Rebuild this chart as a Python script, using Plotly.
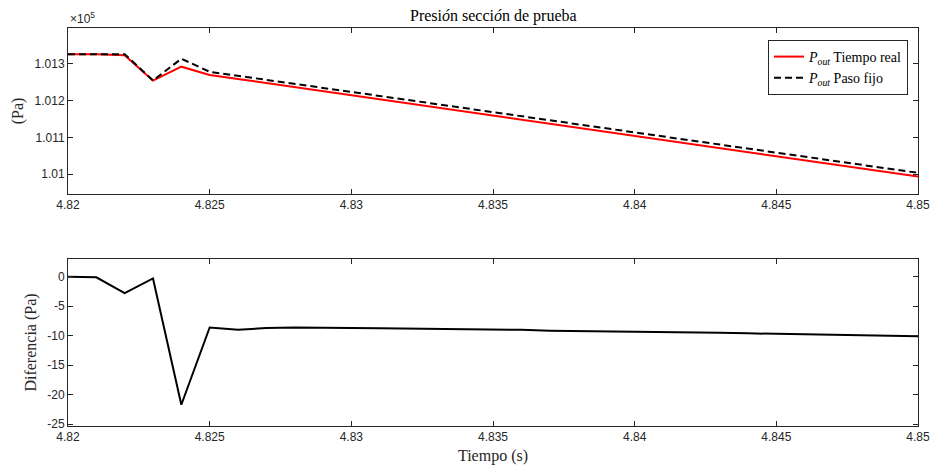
import plotly.graph_objects as go

tiempo = [4.820, 4.821, 4.822, 4.823, 4.824, 4.825, 4.826, 4.827, 4.828, 4.829,
          4.830, 4.831, 4.832, 4.833, 4.834, 4.835, 4.836, 4.837, 4.838, 4.839,
          4.840, 4.841, 4.842, 4.843, 4.844, 4.845, 4.846, 4.847, 4.848, 4.849, 4.850]

p_real = [101326.5, 101326.6, 101323.7, 101254.5, 101292.6, 101270.0, 101259.0, 101248.0,
          101237.0, 101226.0, 101215.0, 101204.0, 101193.0, 101181.0, 101170.0, 101159.0,
          101148.0, 101137.0, 101126.0, 101115.0, 101104.0, 101093.0, 101082.0, 101070.0,
          101059.0, 101048.0, 101037.0, 101026.0, 101015.0, 101004.0, 100993.0]

p_fijo = [101326.5, 101326.7, 101326.5, 101254.8, 101314.3, 101278.6, 101268.0, 101256.7,
          101245.6, 101234.6, 101223.7, 101212.75, 101201.8, 101189.8, 101178.95, 101168.0,
          101157.0, 101146.15, 101135.2, 101124.2, 101113.35, 101102.4, 101091.45, 101079.5,
          101068.6, 101057.7, 101046.8, 101035.85, 101024.95, 101014.05, 101003.1]

diferencia = [0.0, -0.1, -2.8, -0.3, -21.7, -8.6, -9.0, -8.7, -8.6, -8.6,
              -8.7, -8.75, -8.8, -8.8, -8.95, -9.0, -9.0, -9.15, -9.2, -9.2,
              -9.35, -9.4, -9.45, -9.5, -9.6, -9.7, -9.8, -9.85, -9.95, -10.05, -10.1]

x_ticks = [4.82, 4.825, 4.83, 4.835, 4.84, 4.845, 4.85]
x_ticktext = ["4.82", "4.825", "4.83", "4.835", "4.84", "4.845", "4.85"]
y1_ticks = [101000, 101100, 101200, 101300]
y1_ticktext = ["1.01", "1.011", "1.012", "1.013"]
y2_ticks = [0, -5, -10, -15, -20, -25]
y2_ticktext = ["0", "-5", "-10", "-15", "-20", "-25"]

AX = "#262626"
SANS = "Liberation Sans, Arial, sans-serif"
SERIF = "Liberation Serif, Times New Roman, serif"

fig = go.Figure()
fig.add_trace(go.Scatter(x=tiempo, y=p_real, mode="lines",
                         line=dict(color="#ff0000", width=2),
                         name="<i>P</i><sub><i>out</i></sub> Tiempo real",
                         xaxis="x", yaxis="y"))
fig.add_trace(go.Scatter(x=tiempo, y=p_fijo, mode="lines",
                         line=dict(color="#000000", width=2, dash="7px,4px"),
                         name="<i>P</i><sub><i>out</i></sub> Paso fijo",
                         xaxis="x", yaxis="y"))
fig.add_trace(go.Scatter(x=tiempo, y=diferencia, mode="lines",
                         line=dict(color="#000000", width=2),
                         showlegend=False, xaxis="x2", yaxis="y2"))

axcommon = dict(showline=True, linecolor=AX, linewidth=1, mirror="allticks",
                ticks="inside", ticklen=5, tickcolor=AX, showgrid=False, zeroline=False,
                automargin=False,
                tickfont=dict(family=SANS, size=12, color=AX))

top_dom = [(426 - 194) / 398, 1.0]
bot_dom = [0.0, (426 - 259) / 398]

fig.update_layout(
    width=934, height=469,
    margin=dict(l=68, r=16, t=28, b=43),
    paper_bgcolor="white", plot_bgcolor="white",
    xaxis=dict(domain=[0, 1], anchor="y", range=[4.82, 4.85],
               tickvals=x_ticks, ticktext=x_ticktext, **axcommon),
    yaxis=dict(domain=top_dom, anchor="x", range=[100945.5, 101398],
               tickvals=y1_ticks, ticktext=y1_ticktext,
               title=dict(text="(Pa)", font=dict(family=SERIF, size=16, color=AX), standoff=6),
               **axcommon),
    xaxis2=dict(domain=[0, 1], anchor="y2", range=[4.82, 4.85],
                tickvals=x_ticks, ticktext=x_ticktext,
                title=dict(text="Tiempo (s)", font=dict(family=SERIF, size=16, color=AX), standoff=6),
                **axcommon),
    yaxis2=dict(domain=bot_dom, anchor="x2", range=[-25.3, 3],
                tickvals=y2_ticks, ticktext=y2_ticktext,
                title=dict(text="Diferencia (Pa)", font=dict(family=SERIF, size=16, color=AX), standoff=6),
                **axcommon),
    legend=dict(x=(908 - 68) / 850, y=1 - 12 / 398, xanchor="right", yanchor="top",
                bgcolor="white", bordercolor=AX, borderwidth=1,
                font=dict(family=SERIF, size=14, color="#000000"),
                tracegroupgap=0, itemwidth=30),
    showlegend=True,
)

fig.add_annotation(text="Presi<i>ó</i>n secci<i>ó</i>n de prueba", xref="paper", yref="paper",
                   x=0.5, y=1.0, yshift=1, xanchor="center", yanchor="bottom", showarrow=False,
                   font=dict(family=SERIF, size=16, color="#000000"))
fig.add_annotation(text="×10<sup>5</sup>", xref="paper", yref="paper",
                   x=0.0, y=1.0, xanchor="left", yanchor="bottom", showarrow=False,
                   font=dict(family=SANS, size=12, color=AX))

fig.write_html("out.html")
